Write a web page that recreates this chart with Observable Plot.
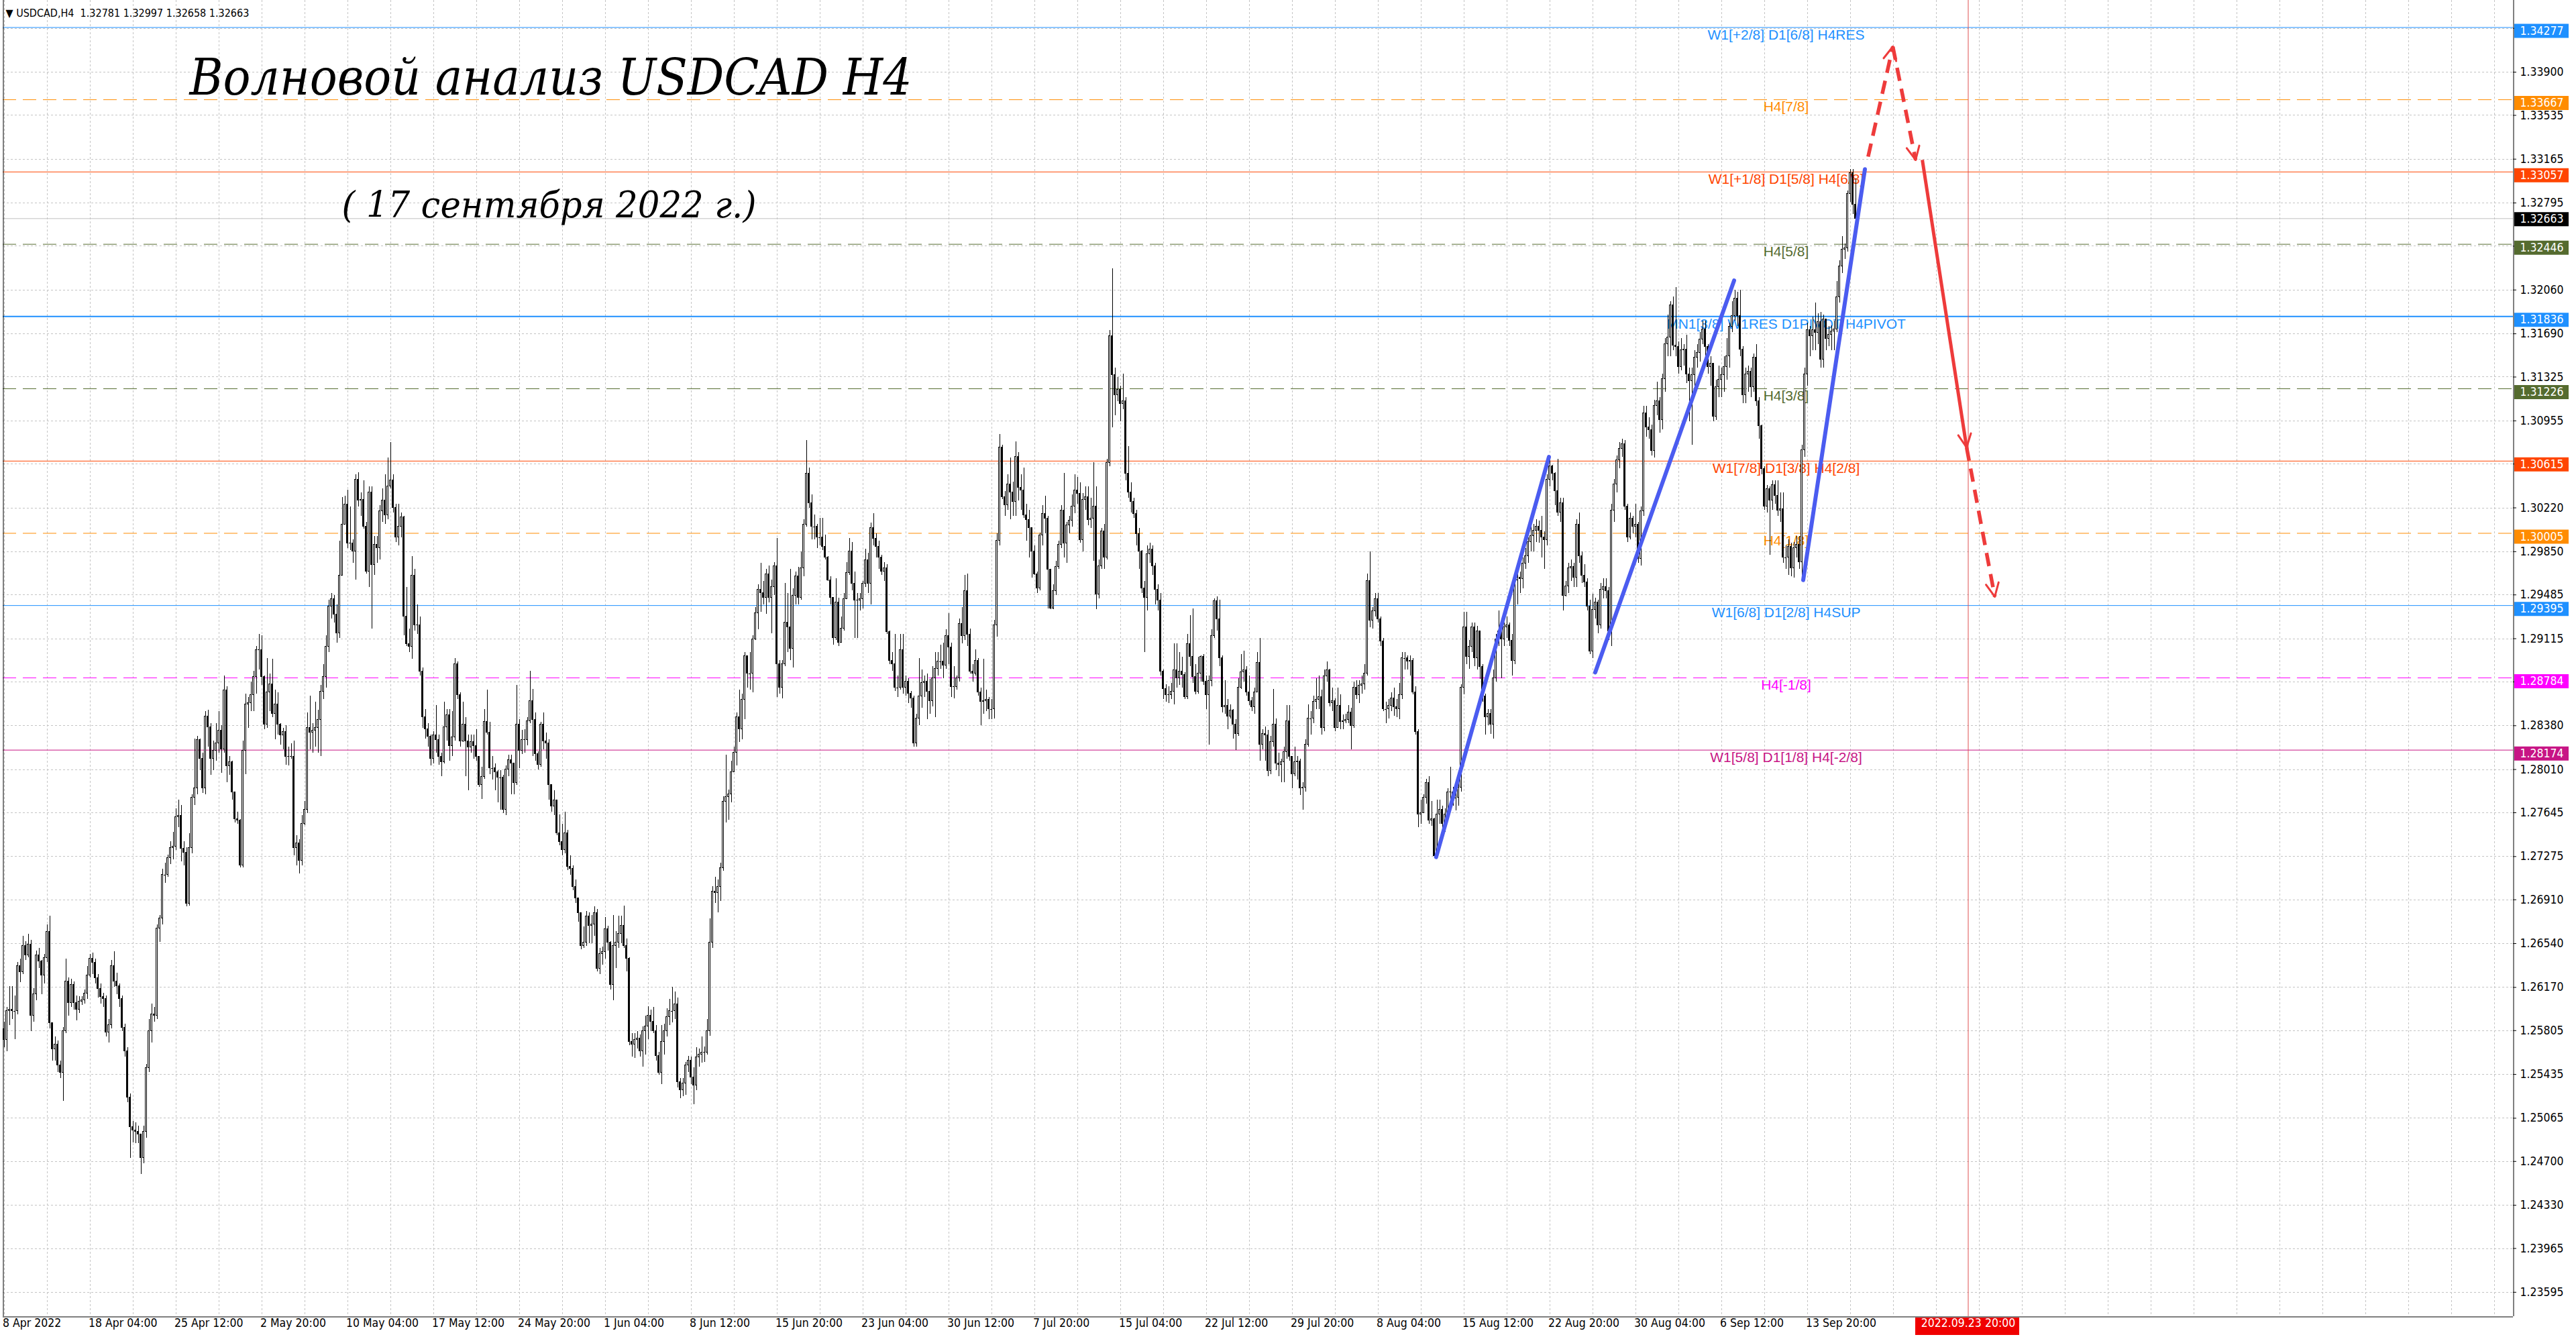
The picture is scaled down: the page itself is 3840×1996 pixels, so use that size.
<!DOCTYPE html>
<html><head><meta charset="utf-8">
<script src="https://cdn.jsdelivr.net/npm/d3@7"></script>
<script src="https://cdn.jsdelivr.net/npm/@observablehq/plot@0.6"></script>
<style>
html,body{margin:0;padding:0;background:#fff;}
#chart svg{display:block;}
</style></head><body><div id="chart"></div>
<script>
// ---------------- DATA ----------------
const symbolHeader = "\u25BC USDCAD,H4  1.32781 1.32997 1.32658 1.32663";
const titleText = "Волновой анализ USDCAD H4";
const subtitleText = "( 17 сентября 2022 г.)";
// prices in units of 0.0001 above 1.0000 (e.g. 2573 -> 1.2573); bar 0 = 8 Apr 2022 20:00, H4
const firstOpen = 2582;
const closes = [
2573,2597,2598,2597,2597,2635,2630,2652,2644,2653,
2593,2611,2644,2639,2627,2642,2664,2587,2565,2569,
2551,2545,2580,2622,2604,2619,2604,2598,2605,2606,
2612,2627,2641,2638,2625,2616,2609,2607,2579,2585,
2635,2622,2618,2607,2583,2563,2524,2499,2496,2495,
2493,2473,2495,2549,2580,2594,2593,2667,2675,2712,
2712,2726,2735,2736,2761,2762,2734,2731,2688,2735,
2777,2785,2826,2810,2785,2846,2837,2810,2817,2823,
2834,2818,2868,2804,2807,2782,2759,2758,2720,2817,
2856,2857,2864,2879,2902,2902,2879,2839,2866,2873,
2848,2856,2839,2830,2833,2812,2812,2812,2735,2739,
2724,2755,2767,2836,2832,2834,2836,2843,2867,2879,
2905,2939,2945,2932,2916,2965,3008,3025,2992,2992,
2985,3046,3028,3029,3006,2968,3035,2974,2991,2988,
3019,3028,3016,3040,3045,3022,2997,3006,3014,2930,
2907,2905,2965,2923,2923,2884,2845,2835,2829,2810,
2830,2826,2812,2807,2837,2847,2821,2828,2890,2864,
2825,2839,2825,2820,2824,2821,2812,2788,2795,2841,
2832,2802,2802,2799,2794,2794,2767,2801,2809,2806,
2790,2839,2817,2826,2826,2842,2859,2843,2814,2805,
2839,2825,2823,2788,2770,2775,2747,2740,2733,2747,
2719,2717,2702,2692,2680,2652,2655,2677,2669,2670,
2680,2633,2645,2647,2666,2655,2619,2652,2655,2662,
2669,2652,2641,2571,2569,2573,2574,2563,2580,2584,
2593,2588,2580,2559,2545,2571,2580,2592,2597,2597,
2603,2537,2530,2536,2551,2555,2541,2534,2558,2560,
2562,2562,2580,2655,2698,2697,2702,2718,2774,2778,
2780,2799,2815,2845,2835,2860,2897,2882,2882,2911,
2933,2953,2950,2946,2966,2946,2955,2973,2890,2870,
2890,2925,2921,2903,2948,2964,2946,2971,3008,3051,
3026,3006,3006,2997,2997,2989,2980,2961,2946,2912,
2942,2908,2920,2945,2967,2985,2958,2944,2944,2945,
2958,2978,2958,3005,2996,2989,2980,2968,2971,2917,
2893,2890,2870,2870,2902,2870,2875,2865,2861,2823,
2844,2863,2874,2875,2867,2859,2878,2886,2892,2892,
2889,2914,2904,2871,2871,2878,2924,2914,2952,2915,
2884,2882,2893,2866,2858,2859,2860,2852,2852,2923,
2994,3073,3031,3024,3042,3035,3027,3065,3039,3037,
3016,3012,3005,2985,2966,2954,2999,3017,3013,2970,
2937,2952,2972,2991,3020,2992,3007,3011,3023,3037,
3034,2995,3029,3031,3012,3013,3023,2949,2973,3002,
2980,3060,3167,3134,3117,3122,3110,3112,3051,3035,
3027,3017,3000,2985,2954,2946,2983,2987,2973,2953,
2944,2884,2869,2864,2864,2867,2885,2878,2884,2881,
2862,2907,2896,2879,2867,2882,2896,2875,2864,2876,
2914,2943,2928,2895,2854,2855,2846,2851,2839,2831,
2870,2883,2885,2866,2859,2854,2866,2891,2822,2831,
2830,2800,2824,2839,2806,2805,2807,2816,2842,2812,
2797,2807,2808,2785,2786,2822,2844,2844,2858,2860,
2862,2836,2880,2885,2857,2859,2836,2855,2841,2842,
2843,2849,2838,2870,2864,2872,2873,2882,2960,2927,
2935,2945,2928,2909,2852,2852,2855,2861,2854,2852,
2864,2895,2895,2892,2893,2866,2833,2763,2764,2777,
2790,2758,2759,2728,2763,2767,2755,2763,2782,2782,
2777,2777,2786,2870,2921,2896,2905,2921,2895,2918,
2888,2863,2845,2848,2839,2878,2911,2918,2911,2921,
2923,2910,2893,2961,2963,2962,2975,2981,2993,2998,
3003,3006,3003,2997,2995,3046,3057,3051,3036,3018,
3026,2948,2956,2971,2972,2963,3008,2981,2965,2959,
2939,2901,2936,2942,2923,2953,2955,2952,2918,3020,
3042,3062,3072,3076,3023,2997,3013,3006,3008,2979,
3019,3102,3090,3088,3070,3108,3112,3096,3131,3160,
3166,3193,3159,3158,3141,3155,3156,3135,3129,3134,
3149,3153,3164,3173,3158,3141,3144,3099,3124,3130,
3134,3141,3150,3175,3184,3199,3184,3156,3117,3135,
3137,3124,3149,3112,3091,3055,3023,3038,3028,3041,
3032,3020,3021,2980,2980,2989,2971,2988,2991,2976,
3071,3135,3172,3167,3172,3170,3179,3147,3181,3165,
3168,3171,3173,3200,3226,3240,3241,3287,3305,3278.1,
3266.3];
const highs = [
2588,2600,2618,2618,2610,2638,2641,2660,2656,2662,
2657,2616,2648,2650,2640,2645,2670,2677,2587,2575,
2572,2555,2583,2641,2625,2624,2622,2610,2609,2609,
2615,2635,2645,2646,2641,2628,2620,2612,2610,2590,
2640,2647,2629,2620,2610,2586,2566,2527,2504,2503,
2500,2485,2500,2552,2590,2603,2600,2670,2678,2717,
2722,2729,2740,2748,2768,2775,2771,2740,2735,2747,
2780,2827,2829,2827,2815,2850,2851,2840,2825,2840,
2850,2838,2880,2871,2812,2808,2782,2765,2759,2825,
2865,2862,2875,2884,2905,2915,2914,2880,2895,2882,
2894,2868,2866,2840,2836,2838,2820,2823,2825,2745,
2742,2762,2774,2849,2863,2840,2858,2851,2872,2890,
2914,2944,2950,2948,2940,2994,3031,3032,3037,3023,
2995,3050,3052,3035,3045,3010,3040,3040,2998,2998,
3024,3038,3050,3064,3077,3050,3025,3025,3018,3015,
2955,2920,2981,2970,2940,2930,2887,2852,2840,2830,
2833,2855,2830,2815,2858,2852,2852,2850,2895,2892,
2866,2858,2845,2830,2830,2830,2835,2812,2803,2852,
2868,2841,2812,2806,2800,2800,2796,2804,2813,2813,
2806,2872,2843,2834,2835,2845,2884,2869,2849,2816,
2841,2849,2832,2826,2788,2783,2775,2763,2755,2765,
2750,2728,2720,2708,2692,2680,2668,2681,2680,2678,
2685,2683,2650,2651,2676,2669,2656,2678,2664,2677,
2677,2686,2658,2642,2578,2578,2580,2577,2584,2593,
2601,2598,2600,2585,2562,2585,2586,2599,2607,2617,
2613,2608,2540,2540,2554,2559,2558,2549,2566,2565,
2575,2567,2590,2675,2702,2710,2708,2722,2778,2813,
2784,2808,2820,2849,2868,2865,2900,2897,2900,2914,
2938,2957,2975,2960,2970,2973,2961,2976,2996,2893,
2893,2958,2950,2970,2954,2968,2972,2985,3012,3079,
3056,3033,3016,3008,3013,3013,2999,2981,2964,2946,
2962,2946,2930,2950,2976,2996,2993,2968,2950,2950,
2960,2987,2984,3009,3017,3000,2994,2982,2976,2974,
2918,2900,2915,2880,2915,2915,2880,2878,2867,2863,
2848,2895,2885,2880,2882,2877,2888,2900,2900,2906,
2908,2919,2933,2908,2888,2880,2928,2938,2965,2966,
2920,2890,2902,2895,2870,2894,2868,2862,2860,2927,
3000,3084,3075,3036,3050,3064,3044,3078,3069,3050,
3056,3025,3020,3000,2990,2968,3001,3024,3032,3015,
2970,2957,2977,2994,3024,3051,3010,3015,3033,3050,
3048,3043,3034,3040,3040,3030,3060,3040,2978,3005,
3008,3063,3172,3224,3140,3132,3125,3135,3115,3074,
3043,3030,3020,3005,2986,2960,2990,2992,2990,2975,
2957,2950,2885,2873,2871,2874,2907,2907,2900,2896,
2883,2915,2931,2937,2890,2896,2897,2898,2880,2880,
2919,2945,2947,2944,2897,2876,2860,2856,2852,2843,
2878,2898,2901,2888,2880,2862,2870,2900,2912,2835,
2837,2834,2829,2869,2844,2815,2810,2820,2855,2855,
2812,2820,2812,2810,2790,2826,2856,2850,2863,2878,
2880,2868,2885,2892,2886,2870,2861,2870,2864,2847,
2848,2855,2853,2875,2876,2876,2880,2890,2966,2985,
2938,2950,2950,2930,2912,2858,2860,2866,2870,2860,
2874,2900,2900,2897,2897,2895,2871,2835,2775,2780,
2793,2795,2774,2760,2775,2775,2770,2768,2785,2803,
2786,2784,2790,2873,2934,2934,2910,2925,2925,2922,
2905,2890,2865,2852,2852,2885,2915,2935,2925,2925,
2930,2925,2915,2966,2970,2968,2980,2988,2997,3006,
3008,3012,3011,3015,3002,3050,3066,3058,3052,3063,
3030,3030,2960,2975,2978,2975,3012,3018,2985,2974,
2962,2944,2949,2946,2944,2958,2962,2962,2955,3025,
3046,3066,3077,3080,3079,3025,3018,3015,3025,3010,
3023,3108,3108,3098,3092,3113,3128,3115,3135,3165,
3185,3196,3200,3208,3162,3165,3160,3168,3140,3140,
3155,3160,3170,3180,3180,3160,3150,3140,3130,3142,
3140,3150,3165,3178,3196,3206,3204,3206,3158,3140,
3142,3140,3152,3160,3115,3092,3057,3041,3040,3045,
3045,3045,3035,3035,2990,2995,2992,2993,2998,2998,
3075,3140,3178,3175,3183,3195,3186,3187,3185,3180,
3175,3176,3180,3213,3231,3251,3245,3290,3308,3308,
3299.7];
const lows = [
2566,2563,2585,2590,2573,2594,2621,2628,2640,2642,
2580,2588,2606,2633,2611,2620,2638,2582,2555,2555,
2545,2540,2521,2578,2593,2600,2598,2589,2595,2602,
2603,2607,2625,2628,2620,2608,2603,2600,2575,2570,
2582,2617,2611,2600,2580,2558,2520,2473,2486,2485,
2485,2459,2468,2490,2545,2570,2588,2590,2655,2670,
2705,2710,2721,2725,2733,2752,2723,2720,2685,2686,
2730,2771,2780,2800,2781,2780,2820,2796,2800,2808,
2815,2798,2815,2790,2796,2775,2756,2755,2718,2718,
2797,2836,2850,2850,2865,2885,2872,2835,2836,2850,
2845,2826,2830,2822,2818,2805,2804,2810,2728,2720,
2713,2720,2754,2764,2818,2815,2820,2815,2812,2860,
2870,2900,2928,2925,2908,2912,2965,3008,2988,2986,
2975,2961,3023,3015,3004,2966,2955,2920,2965,2975,
2978,3010,3008,3012,3038,3018,2993,2990,2997,2914,
2905,2900,2894,2918,2915,2880,2836,2827,2820,2804,
2806,2815,2805,2795,2806,2825,2808,2812,2825,2860,
2820,2824,2795,2783,2815,2810,2808,2786,2776,2793,
2830,2797,2792,2783,2773,2767,2764,2762,2795,2780,
2780,2788,2802,2814,2815,2821,2840,2812,2808,2801,
2803,2818,2810,2775,2765,2762,2745,2737,2728,2730,
2716,2712,2699,2688,2672,2649,2650,2652,2654,2654,
2660,2630,2628,2636,2641,2648,2615,2606,2633,2650,
2654,2650,2630,2568,2558,2557,2565,2558,2550,2560,
2573,2580,2578,2555,2543,2535,2560,2575,2585,2587,
2590,2532,2523,2525,2526,2545,2535,2518,2530,2550,
2553,2554,2560,2576,2650,2688,2680,2690,2715,2756,
2758,2773,2800,2804,2824,2826,2843,2870,2868,2866,
2910,2919,2934,2940,2932,2942,2916,2948,2862,2865,
2861,2888,2900,2893,2887,2940,2940,2944,2964,3006,
3022,2995,2995,2988,2990,2986,2978,2960,2940,2906,
2910,2905,2912,2918,2945,2965,2952,2912,2912,2935,
2937,2955,2950,2940,2990,2980,2970,2965,2960,2915,
2890,2884,2867,2862,2868,2865,2863,2857,2853,2820,
2820,2838,2853,2862,2843,2848,2854,2845,2880,2886,
2878,2886,2890,2862,2861,2868,2875,2907,2910,2905,
2882,2875,2880,2863,2838,2848,2850,2843,2843,2844,
2913,2990,3029,3015,3020,3012,3015,3015,3028,3020,
3013,2994,2980,2963,2965,2950,2952,2990,3000,2937,
2936,2936,2948,2970,2988,2980,2975,3000,3006,3017,
3025,2992,2985,3020,3007,3005,2977,2936,2945,2970,
2970,2978,3057,3090,3100,3112,3095,3105,3045,3030,
3018,3013,2990,2970,2950,2900,2935,2975,2965,2940,
2935,2880,2860,2858,2857,2860,2856,2870,2872,2870,
2860,2860,2888,2874,2864,2865,2875,2872,2852,2822,
2871,2912,2918,2888,2849,2848,2835,2844,2827,2817,
2829,2869,2875,2863,2855,2850,2848,2866,2808,2818,
2808,2795,2797,2820,2800,2795,2790,2790,2810,2808,
2785,2795,2792,2779,2767,2782,2820,2830,2840,2852,
2852,2830,2833,2875,2854,2850,2833,2838,2835,2835,
2840,2840,2818,2836,2860,2857,2865,2868,2880,2921,
2920,2930,2925,2905,2850,2840,2844,2850,2846,2845,
2843,2860,2885,2885,2880,2864,2830,2752,2755,2764,
2772,2755,2753,2727,2727,2755,2745,2748,2760,2775,
2770,2766,2770,2782,2864,2890,2886,2900,2888,2885,
2877,2858,2830,2838,2831,2827,2875,2905,2878,2905,
2912,2905,2880,2890,2940,2950,2954,2970,2975,2985,
2985,2993,2992,2980,2970,2990,3040,3045,3024,3015,
3010,2935,2947,2950,2960,2955,2955,2975,2958,2955,
2935,2898,2895,2928,2916,2920,2945,2945,2910,2905,
3010,3035,3055,3065,3020,2993,2995,3000,2997,2975,
2973,3015,3082,3080,3066,3064,3100,3085,3088,3120,
3150,3150,3155,3150,3135,3138,3142,3127,3095,3075,
3125,3140,3145,3160,3150,3135,3125,3095,3096,3115,
3115,3120,3130,3140,3170,3180,3175,3150,3110,3110,
3120,3115,3120,3108,3080,3050,3020,3018,2982,3020,
3025,3015,3010,2975,2970,2965,2964,2963,2980,2970,
2962,3065,3125,3150,3155,3155,3160,3140,3140,3155,
3158,3155,3155,3170,3195,3220,3232,3238,3280,3270,
3265.8];

const timeLabels = ["8 Apr 2022","18 Apr 04:00","25 Apr 12:00","2 May 20:00","10 May 04:00","17 May 12:00","24 May 20:00","1 Jun 04:00","8 Jun 12:00","15 Jun 20:00","23 Jun 04:00","30 Jun 12:00","7 Jul 20:00","15 Jul 04:00","22 Jul 12:00","29 Jul 20:00","8 Aug 04:00","15 Aug 12:00","22 Aug 20:00","30 Aug 04:00","6 Sep 12:00","13 Sep 20:00"];
const timeLabelBars = [0,32,64,96,128,160,192,224,256,288,320,352,384,416,448,480,512,544,576,608,640,672];
const forecastBar = 732;
const forecastLabel = "2022.09.23 20:00";

const gridPrices = [1.34270,1.33900,1.33535,1.33165,1.32795,1.32430,1.32060,1.31690,1.31325,1.30955,1.30590,1.30220,1.29850,1.29485,1.29115,1.28750,1.28380,1.28010,1.27645,1.27275,1.26910,1.26540,1.26170,1.25805,1.25435,1.25065,1.24700,1.24330,1.23965,1.23595];
const hiddenPriceLabels = [1.34270,1.32430,1.30590,1.28750];

const levelPrices = [1.34277,1.33667,1.33057,1.32446,1.31836,1.31226,1.30615,1.30005,1.29395,1.28784,1.28174];
const levelNames = ["W1[+2/8] D1[6/8] H4RES","H4[7/8]","W1[+1/8] D1[5/8] H4[6/8]","H4[5/8]","MN1[3/8] W1RES D1PIVOT H4PIVOT","H4[3/8]","W1[7/8] D1[3/8] H4[2/8]","H4[1/8]","W1[6/8] D1[2/8] H4SUP","H4[-1/8]","W1[5/8] D1[1/8] H4[-2/8]"];
const levelKinds = ["blue","orange","red","olive","blue","olive","red","orange","blue","magenta","violet"];
const currentPrice = 1.32663;

// wave annotations (bar index, price)
const waveFrom = [[533.7,1.2727],[593.0,1.2883],[670.5,1.2961]];
const waveTo   = [[575.75,1.3065],[644.75,1.3214],[693.5,1.3308]];
// forecast arrows (bar index, price)
const arrowFrom = [[694.7,1.33186],[703.9,1.34115],[714.9,1.33158],[731.4,1.3073]];
const arrowTo   = [[703.9,1.34115],[712.4,1.33158],[731.4,1.3073],[741.9,1.2947]];
const arrowDashed = [true,true,false,true];

// ---------------- LAYOUT / STYLE ----------------
const W = 3840, H = 1996;
const FL = 4, FR = 3746, FT = 0, FB = 1962;     // frame in pixels
const X0 = 5.5, BW = 4;                           // pixel x of bar 0, bar spacing
const Y_REF = 107, P_REF = 1.339, PXU = 17650;    // price->pixel mapping
const bx = px => (px - X0) / BW;
const bp = py => P_REF - (py - Y_REF) / PXU;
const pxOf = b => X0 + BW * b;
const pyOf = p => Y_REF + (P_REF - p) * PXU;

const kindColor = {blue:"#1E90FF", orange:"#FF8C00", red:"#FF4500", olive:"#556B2F", magenta:"#FF00FF", violet:"#C71585"};
const dashedKinds = ["orange", "olive", "magenta"];
const axisFont = "'DejaVu Sans Condensed', 'DejaVu Sans', sans-serif";
const labelFont = "'Liberation Sans', Arial, sans-serif";

// ---------------- BUILD ----------------
const bars = closes.map((c, i) => {
  const o = i === 0 ? firstOpen : closes[i - 1];
  return {
    i,
    o: 1 + o / 1e4,
    c: 1 + c / 1e4,
    h: 1 + Math.max(highs[i], o, c) / 1e4,
    l: 1 + Math.min(lows[i], o, c) / 1e4
  };
});
const bodies = bars.filter(d => Math.abs(d.c - d.o) >= 0.00002);
const dojis = bars.filter(d => Math.abs(d.c - d.o) < 0.00002);

const levels = levelPrices.map((p, k) => ({p, name: levelNames[k], kind: levelKinds[k], w: k === 4 ? 2 : 1}));
const solidLevels = levels.filter(d => !dashedKinds.includes(d.kind));
const dashLevels = levels.filter(d => dashedKinds.includes(d.kind));
const labelPrices = gridPrices.filter(p => !hiddenPriceLabels.includes(p));
const boxes = levels.map(d => ({p: d.p, color: kindColor[d.kind]}));

const waves = waveFrom.map((a, k) => ({x1: a[0], y1: a[1], x2: waveTo[k][0], y2: waveTo[k][1]}));
const arrows = arrowFrom.map((a, k) => ({x1: a[0], y1: a[1], x2: arrowTo[k][0], y2: arrowTo[k][1], dashed: arrowDashed[k]}));
function wingsOf(a) {
  const x1 = pxOf(a.x1), y1 = pyOf(a.y1), x2 = pxOf(a.x2), y2 = pyOf(a.y2);
  const L = Math.hypot(x2 - x1, y2 - y1), ux = (x2 - x1) / L, uy = (y2 - y1) / L;
  const len = 22, ang = Math.PI / 7;
  return [ang, -ang].map(t => {
    const c = Math.cos(t), s = Math.sin(t);
    const wx = -(ux * c - uy * s) * len, wy = -(ux * s + uy * c) * len;
    return {x1: a.x2, y1: a.y2, x2: bx(x2 + wx), y2: bp(y2 + wy)};
  });
}
const wings = arrows.flatMap(wingsOf);

const gridBars = d3.range(0, Math.floor(bx(FR)) + 1, 16);
const redC = "#EE3B3B";

const chart = Plot.plot({
  width: W, height: H,
  marginLeft: FL, marginRight: W - FR, marginTop: FT, marginBottom: H - FB,
  x: {type: "linear", domain: [bx(FL), bx(FR)], axis: null},
  y: {type: "linear", domain: [bp(FB), bp(FT)], axis: null},
  style: {background: "#ffffff", fontFamily: axisFont, overflow: "visible"},
  marks: [
    // grid
    Plot.ruleY(gridPrices, {stroke: "#c4c4c4", strokeDasharray: "3,3", shapeRendering: "crispEdges"}),
    Plot.ruleX(gridBars, {stroke: "#c4c4c4", strokeDasharray: "3,3", shapeRendering: "crispEdges"}),
    // current price line
    Plot.ruleY([currentPrice], {stroke: "#c0c0c0"}),
    // levels
    Plot.ruleY(solidLevels, {y: "p", stroke: d => kindColor[d.kind], strokeWidth: "w"}),
    Plot.ruleY(dashLevels, {y: "p", stroke: d => kindColor[d.kind], strokeWidth: 1, strokeDasharray: "20,10"}),
    // forecast time line
    Plot.ruleX([forecastBar], {stroke: "#E05050", strokeWidth: 1}),
    // level texts
    Plot.text(levels, {x: bx(2662), y: "p", text: "name", fill: d => kindColor[d.kind],
      dy: 11, fontSize: 21, fontFamily: labelFont, textAnchor: "middle"}),
    // candles
    Plot.ruleX(bars, {x: "i", y1: "l", y2: "h", stroke: "#000", strokeWidth: 1, shapeRendering: "crispEdges"}),
    Plot.rect(bodies, {x1: d => d.i - 0.25, x2: d => d.i + 0.25, y1: "o", y2: "c",
      fill: d => d.c > d.o ? "#fff" : "#000", stroke: "#000", strokeWidth: 1, shapeRendering: "crispEdges"}),
    Plot.ruleY(dojis, {x1: d => d.i - 0.375, x2: d => d.i + 0.375, y: "c", stroke: "#000", shapeRendering: "crispEdges"}),
    // waves
    Plot.link(waves, {x1: "x1", y1: "y1", x2: "x2", y2: "y2", stroke: "#4B5CF0", strokeWidth: 6, strokeLinecap: "round"}),
    // forecast arrows
    Plot.link(arrows.filter(d => d.dashed), {x1: "x1", y1: "y1", x2: "x2", y2: "y2", stroke: redC, strokeWidth: 5.5,
      strokeDasharray: "20,12"}),
    Plot.link(arrows.filter(d => !d.dashed), {x1: "x1", y1: "y1", x2: "x2", y2: "y2", stroke: redC, strokeWidth: 5}),
    Plot.link(wings, {x1: "x1", y1: "y1", x2: "x2", y2: "y2", stroke: redC, strokeWidth: 3, strokeLinecap: "round"}),
    // frame
    Plot.ruleX([bx(FR + 0.5)], {stroke: "#000"}),
    Plot.ruleX([bx(FL + 0.5)], {stroke: "#000"}),
    Plot.ruleY([bp(FB + 0.5)], {stroke: "#000"}),
    // price axis
    Plot.ruleY(gridPrices, {x1: bx(FR), x2: bx(FR + 5), stroke: "#000"}),
    Plot.text(labelPrices, {y: d => d, text: d => d.toFixed(5), frameAnchor: "right", dx: 10,
      textAnchor: "start", fontSize: 17.5, fontFamily: axisFont, fill: "#000"}),
    Plot.ruleY(boxes, {y: "p", x1: bx(3748), x2: bx(3829), stroke: "color", strokeWidth: 21, dy: 5}),
    Plot.text(boxes, {y: "p", text: d => d.p.toFixed(5), frameAnchor: "right", dx: 10, dy: 5,
      textAnchor: "start", fontSize: 17.5, fontFamily: axisFont, fill: "#fff"}),
    Plot.ruleY([currentPrice], {x1: bx(3748), x2: bx(3829), stroke: "#000", strokeWidth: 21, dy: 1}),
    Plot.text([currentPrice], {y: d => d, text: d => d.toFixed(5), frameAnchor: "right", dx: 10, dy: 1,
      textAnchor: "start", fontSize: 17.5, fontFamily: axisFont, fill: "#fff"}),
    // time axis
    Plot.text(timeLabelBars, {x: d => d, text: (d, i) => timeLabels[i], frameAnchor: "bottom", dy: 15,
      dx: -2, textAnchor: "start", fontSize: 17.5, fontFamily: axisFont, fill: "#000"}),
    Plot.rect([forecastBar], {x1: bx(2855), x2: bx(3010), y1: bp(1964), y2: bp(1990), fill: "#F00000"}),
    Plot.text([forecastBar], {x: d => d, text: [forecastLabel], frameAnchor: "bottom", dy: 15,
      textAnchor: "middle", fontSize: 17.5, fontFamily: axisFont, fill: "#fff"}),
    // header and titles
    Plot.text([symbolHeader], {frameAnchor: "top-left", dx: 4, dy: 19, lineAnchor: "middle",
      textAnchor: "start", fontSize: 16, fontFamily: axisFont, fill: "#000"}),
    Plot.text([titleText], {frameAnchor: "top-left", dx: 278, dy: 117, lineAnchor: "middle",
      textAnchor: "start", fontSize: 74, fontStyle: "italic", fontFamily: "'DejaVu Serif', serif", fill: "#000"}),
    Plot.text([subtitleText], {frameAnchor: "top-left", dx: 505, dy: 306, lineAnchor: "middle",
      textAnchor: "start", fontSize: 54, fontStyle: "italic", fontFamily: "'DejaVu Serif', serif", fill: "#000"})
  ]
});

for (const t of chart.querySelectorAll("text")) {
  if (t.textContent === titleText) { t.setAttribute("textLength", 1077); t.setAttribute("lengthAdjust", "spacingAndGlyphs"); }
  if (t.textContent === subtitleText) { t.setAttribute("textLength", 618); t.setAttribute("lengthAdjust", "spacingAndGlyphs"); }
}
document.getElementById("chart").appendChild(chart);
</script>
</body></html>
